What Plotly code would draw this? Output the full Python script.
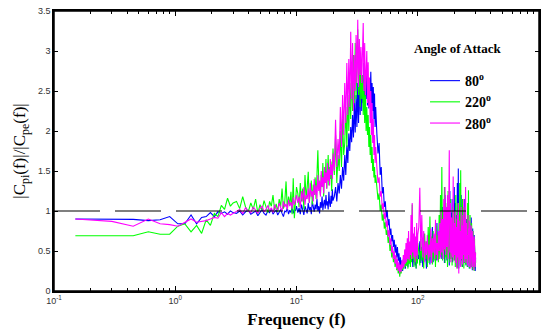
import plotly.graph_objects as go

# ---------------- data ----------------
freq_a = [0.15, 0.3, 0.45, 0.6, 0.75, 0.9, 1.05, 1.2, 1.35, 1.5, 1.65, 1.8, 1.95, 2.1, 2.25, 2.4, 2.55, 2.7, 2.85, 3.0]
freq_b = [3.2, 3.4, 3.6, 3.8, 4.0, 4.2, 4.4, 4.6, 4.8, 5.0, 5.2, 5.4, 5.6, 5.8, 6.0, 6.2, 6.4, 6.6, 6.8, 7.0,
          7.2, 7.4, 7.6, 7.8, 8.0, 8.2, 8.4, 8.6, 8.8, 9.0, 9.2, 9.4, 9.6, 9.8, 10.0]
freq_c1 = [10.25, 10.5, 10.75, 11, 11.25, 11.5, 11.75, 12, 12.25, 12.5, 12.75, 13, 13.25, 13.5, 13.75, 14,
           14.25, 14.5, 14.75, 15, 15.25, 15.5, 15.75, 16, 16.25, 16.5, 16.75, 17, 17.25, 17.5, 17.75, 18,
           18.25, 18.5, 18.75, 19, 19.25, 19.5, 19.75, 20]
freq_c2 = [20.5, 21, 21.5, 22, 22.5, 23, 23.5, 24, 24.5, 25, 25.5, 26, 26.5, 27, 27.5, 28, 28.5, 29, 29.5, 30,
           30.5, 31, 31.5, 32, 32.5, 33, 33.5, 34, 34.5, 35, 35.5, 36, 36.5, 37, 37.5, 38, 38.5, 39, 39.5, 40,
           40.5, 41, 41.5, 42, 42.5, 43, 43.5, 44, 44.5, 45]
freq_c3 = [46, 47, 48, 49, 50, 51, 52, 53, 54, 55, 56, 57, 58, 59, 60, 61, 62, 63, 64, 65, 66, 67, 68, 69, 70,
           71, 72, 73, 74, 75, 76, 77, 78, 79, 80, 81, 82, 83, 84, 85, 86, 87, 88, 89, 90, 91, 92, 93, 94, 95,
           96, 97, 98, 99, 100]
freq_d = [102, 104, 106, 108, 110, 112, 114, 116, 118, 120, 122, 124, 126, 128, 130, 132, 134, 136, 138, 140,
          142, 144, 146, 148, 150, 152, 154, 156, 158, 160, 162, 164, 166, 168, 170, 172, 174, 176, 178, 180,
          182, 184, 186, 188, 190, 192, 194, 196, 198, 200, 202, 204, 206, 208, 210, 212, 214, 216, 218, 220,
          222, 224, 226, 228, 230, 232, 234, 236, 238, 240, 242, 244, 246, 248, 250, 252, 254, 256, 258, 260,
          262, 264, 266, 268, 270, 272, 274, 276, 278, 280, 282, 284, 286, 288, 290, 292, 294, 296, 298, 300]
frequency = freq_a + freq_b + freq_c1 + freq_c2 + freq_c3 + freq_d

ratio_80 = [
    # 0.15 - 3.0
    0.90, 0.90, 0.895, 0.88, 0.89, 0.93, 0.84, 0.84, 0.95, 0.84, 0.92, 0.93, 0.98, 0.93, 0.99, 0.97, 0.99, 0.96, 1.00, 0.98,
    # 3.2 - 10
    0.97, 1.00, 0.95, 0.99, 1.01, 0.96, 0.98, 1.00, 0.94, 0.99, 1.02, 0.97, 0.95, 1.00, 0.98, 1.03, 0.96, 0.99, 1.01, 0.95,
    0.98, 1.02, 0.97, 0.93, 1.00, 0.99, 1.04, 0.96, 1.01, 0.98, 1.05, 0.97, 1.02, 1.00, 1.06,
    # 10.25 - 20
    0.98, 1.04, 0.96, 1.08, 1.00, 0.95, 1.06, 1.02, 0.97, 1.10, 1.01, 1.05, 0.96, 1.12, 1.03, 0.99, 1.08, 1.02, 1.15, 1.00,
    1.06, 0.97, 1.11, 1.04, 1.18, 1.01, 1.09, 1.14, 1.03, 1.20, 1.07, 1.12, 1.02, 1.24, 1.10, 1.05, 1.19, 1.09, 1.27, 1.13,
    # 20.5 - 45
    1.18, 1.30, 1.12, 1.35, 1.22, 1.45, 1.28, 1.55, 1.38, 1.70, 1.45, 1.82, 1.60, 1.97, 1.75, 2.05, 1.86, 2.20, 1.92, 2.35,
    1.98, 2.45, 2.05, 2.60, 2.10, 2.70, 2.20, 2.80, 2.25, 2.65, 2.35, 2.85, 2.30, 2.70, 2.40, 2.78, 2.32, 2.65, 2.28, 2.60,
    2.45, 2.74, 2.30, 2.60, 2.25, 2.55, 2.15, 2.47, 2.05, 2.30,
    # 46 - 100
    1.97, 1.72, 1.85, 1.45, 1.55, 1.22, 1.30, 1.05, 1.12, 0.92, 1.01, 0.82, 0.90, 0.70, 0.78, 0.62, 0.70, 0.55, 0.64, 0.48,
    0.58, 0.42, 0.55, 0.38, 0.47, 0.32, 0.42, 0.28, 0.38, 0.25, 0.35, 0.30, 0.42, 0.28, 0.39, 0.32, 0.48, 0.30, 0.45, 0.35,
    0.52, 0.33, 0.60, 0.38, 0.50, 0.30, 0.55, 0.36, 0.62, 0.32, 0.48, 0.28, 0.58, 0.35, 0.45,
    # 102 - 300
    0.40, 0.62, 0.35, 0.55, 0.30, 0.68, 0.38, 0.52, 0.28, 0.60, 0.40, 0.72, 0.33, 0.58, 0.42, 0.80, 0.36, 0.65, 0.45, 0.70,
    0.38, 0.85, 0.42, 0.66, 0.50,
    0.95, 0.45, 0.78, 0.40, 1.05, 0.52, 0.88, 0.35, 1.20, 0.48, 0.92, 0.38, 1.10, 0.55, 0.82, 0.32, 1.25, 0.45, 0.98, 0.40,
    1.15, 0.36, 0.90, 0.50, 1.30,
    0.42, 1.10, 0.35, 0.95, 0.30, 1.35, 0.45, 1.53, 0.28, 1.00, 0.40, 0.85, 0.32, 1.20, 0.38, 0.92, 0.30, 1.05, 0.45, 0.80,
    0.35, 1.15, 0.40, 0.75, 0.32,
    0.90, 0.38, 0.72, 0.30, 1.00, 0.42, 0.68, 0.28, 0.85, 0.36, 0.62, 0.30, 0.92, 0.40, 0.58, 0.26, 0.78, 0.35, 0.55, 0.28,
    0.70, 0.32, 0.50, 0.25, 0.42,
]

ratio_220 = [
    0.69, 0.69, 0.69, 0.74, 0.71, 0.71, 0.81, 0.84, 0.74, 0.82, 0.72, 0.89, 0.82, 0.97, 0.93, 1.07, 1.02, 1.16, 1.06, 1.10,
    1.12, 1.03, 1.18, 1.05, 0.99, 1.10, 1.02, 1.15, 0.97, 1.08, 1.01, 1.13, 1.04, 0.98, 1.12, 1.06, 1.20, 1.01, 1.09, 0.99,
    1.15, 1.05, 1.28, 1.03, 1.11, 1.37, 1.02, 1.18, 1.07, 1.24, 0.96, 1.41, 0.91, 1.16, 1.30,
    1.22, 1.05, 1.35, 1.12, 1.28, 1.02, 1.45, 1.15, 1.30, 1.49, 1.10, 1.26, 1.38, 1.08, 1.33, 1.20, 1.42, 1.15, 1.55, 1.76,
    1.38, 1.25, 1.20, 1.45, 1.30, 1.60, 1.18, 1.50, 1.35, 1.65, 1.28, 1.48, 1.70, 1.32, 1.55, 1.40, 1.62, 1.25, 1.58, 1.78,
    1.45, 1.95, 1.35, 1.70, 1.50, 2.00, 1.55, 2.15, 1.70, 1.85, 2.30, 1.80, 2.45, 2.00, 2.60, 2.15, 2.80, 2.25, 2.95, 2.35,
    3.10, 2.40, 2.90, 3.27, 2.45, 3.05, 2.30, 2.85, 2.40, 2.70, 2.20, 2.60, 2.10, 2.45, 2.00, 2.30, 1.95, 2.20, 1.80, 2.05,
    1.70, 1.95, 1.60, 1.80, 1.50, 1.65, 1.42, 1.55, 1.35, 1.45,
    1.30, 1.14, 1.22, 1.00, 1.08, 0.88, 0.96, 0.78, 0.86, 0.70, 0.76, 0.60, 0.68, 0.50, 0.58, 0.42, 0.52, 0.36, 0.46, 0.30,
    0.42, 0.26, 0.36, 0.22, 0.32, 0.18, 0.28, 0.22, 0.35, 0.26, 0.40, 0.28, 0.44, 0.30, 0.50, 0.32, 0.45, 0.28, 0.55, 0.34,
    0.48, 0.30, 0.62, 0.36, 1.08, 0.40, 0.58, 0.30, 0.66, 0.38, 0.52, 0.28, 0.70, 0.34, 0.60,
    0.50, 0.32, 0.65, 0.38, 0.58, 0.28, 0.72, 0.40, 0.62, 0.30, 0.80, 0.35, 0.93, 0.42, 0.68, 0.33, 0.75, 0.38, 0.60, 0.30,
    0.82, 0.40, 0.70, 0.36, 0.95,
    0.40, 1.20, 0.45, 1.55, 0.38, 1.00, 0.50, 1.30, 0.35, 1.10, 0.42, 0.88, 0.30, 1.25, 0.48, 0.95, 0.36, 1.15, 0.40, 0.85,
    0.32, 1.05, 0.45, 0.78, 0.38,
    1.00, 0.30, 1.20, 0.42, 0.90, 0.28, 1.10, 0.36, 0.82, 0.40, 1.35, 0.32, 1.51, 0.45, 0.95, 0.30, 1.15, 0.38, 0.80, 0.28,
    1.05, 0.40, 0.70, 0.33, 0.90,
    0.36, 0.75, 0.30, 1.10, 0.42, 1.26, 0.35, 0.80, 0.28, 0.95, 0.40, 0.68, 0.30, 0.85, 0.36, 0.62, 0.27, 0.75, 0.32, 0.55,
    0.25, 0.65, 0.30, 0.48, 0.35,
]

ratio_280 = [
    0.90, 0.87, 0.81, 0.90, 0.84, 0.83, 0.81, 0.86, 0.90, 0.86, 0.87, 0.88, 0.90, 0.92, 0.91, 0.98, 0.93, 0.97, 0.95, 0.97,
    0.99, 1.02, 0.97, 1.04, 1.00, 0.98, 1.05, 1.01, 0.97, 1.03, 1.06, 0.99, 1.02, 1.07, 1.00, 1.04, 0.98, 1.08, 1.03, 1.01,
    1.10, 1.04, 1.00, 1.12, 1.05, 1.09, 1.02, 1.14, 1.06, 1.11, 1.03, 1.17, 1.08, 1.13, 1.20,
    1.10, 1.18, 1.04, 1.25, 1.12, 1.30, 1.08, 1.20, 1.15, 1.28, 1.10, 1.35, 1.18, 1.25, 1.12, 1.40, 1.20, 1.32, 1.15, 1.45,
    1.25, 1.38, 1.18, 1.50, 1.30, 1.42, 1.22, 1.55, 1.35, 1.48, 1.28, 1.60, 1.38, 1.52, 1.32, 1.65, 1.45, 1.58, 1.40, 1.72,
    1.50, 2.14, 1.55, 1.90, 1.65, 2.30, 1.80, 2.45, 1.95, 2.60, 2.10, 2.85, 2.20, 2.90, 2.30, 3.24, 2.40, 3.10, 2.25, 2.95,
    2.50, 3.20, 2.60, 3.39, 2.55, 3.15, 2.70, 3.05, 2.60, 3.25, 3.35, 2.50, 3.10, 2.45, 2.90, 3.00, 2.35, 2.86, 2.30, 2.67,
    2.10, 2.50, 1.95, 2.35, 1.85, 2.15, 1.70, 1.95, 1.60, 1.80,
    1.55, 1.35, 1.42, 1.18, 1.25, 1.02, 1.10, 0.90, 0.98, 0.80, 0.88, 0.68, 0.76, 0.58, 0.66, 0.48, 0.56, 0.40, 0.50, 0.34,
    0.45, 0.28, 0.40, 0.25, 0.36, 0.22, 0.33, 0.24, 0.38, 0.28, 0.45, 0.30, 0.52, 0.34, 0.60, 0.36, 0.66, 0.40, 0.75, 0.38,
    0.62, 0.45, 0.95, 0.40, 1.10, 0.48, 0.72, 0.42, 0.80, 0.36, 0.68, 0.44, 0.85, 0.40, 0.70,
    0.80, 1.29, 0.50, 0.95, 0.42, 0.75, 0.36, 0.62, 0.45, 0.70, 0.38, 0.58, 0.42, 0.78, 0.35, 0.66, 0.48, 0.72, 0.40, 0.89,
    0.45, 0.60, 0.38, 0.75, 0.50,
    0.85, 0.42, 1.00, 0.48, 0.90, 0.40, 1.15, 0.52, 1.30, 0.45, 1.05, 0.55, 1.20, 0.40, 0.95, 1.76, 0.48, 1.10, 0.36, 0.92,
    0.50, 0.42, 1.43, 0.38, 0.85,
    0.45, 1.00, 0.35, 0.80, 0.28, 0.95, 0.42, 1.10, 0.22, 0.88, 0.38, 0.75, 0.30, 1.05, 0.40, 0.82, 0.33, 0.95, 0.45, 1.15,
    0.36, 0.90, 0.40, 1.30, 0.35,
    0.85, 0.40, 0.70, 0.32, 0.95, 0.45, 0.78, 0.30, 0.88, 0.38, 0.65, 0.28, 0.82, 0.42, 0.60, 0.30, 0.75, 0.35, 0.58, 0.26,
    0.68, 0.33, 0.55, 0.30, 0.48,
]

reference_level = 1.0
x_range_ends = [0.1, 1000]

series_names = ["<b>80<sup>o</sup></b>", "<b>220<sup>o</sup></b>", "<b>280<sup>o</sup></b>"]
series_values = [ratio_80, ratio_220, ratio_280]
series_colors = ["#0000FF", "#00FF00", "#FF00FF"]

x_tick_vals = [0.1, 1, 10, 100, 1000]
x_tick_text = ["10<sup>-1</sup>", "10<sup>0</sup>", "10<sup>1</sup>", "10<sup>2</sup>", "10<sup>3</sup>"]
x_minor_vals = [0.2, 0.3, 0.4, 0.5, 0.6, 0.7, 0.8, 0.9, 2, 3, 4, 5, 6, 7, 8, 9,
                20, 30, 40, 50, 60, 70, 80, 90, 200, 300, 400, 500, 600, 700, 800, 900]

# ---------------- figure ----------------
fig = go.Figure()
for i, (name, vals, col) in enumerate(zip(series_names, series_values, series_colors)):
    fig.add_trace(go.Scatter(x=frequency, y=vals, mode="lines", name=name,
                             legendgroup="g%d" % i,
                             line=dict(color=col, width=1.1)))

fig.add_trace(go.Scatter(x=x_range_ends, y=[reference_level, reference_level], mode="lines",
                         showlegend=False, hoverinfo="skip",
                         line=dict(color="black", width=1.2, dash="46px,15px")))

serif = "Liberation Serif, Times New Roman, serif"
sans = "Liberation Sans, Arial, sans-serif"

fig.update_layout(
    width=542, height=331,
    margin=dict(l=54, r=3, t=11, b=40, autoexpand=False),
    paper_bgcolor="white", plot_bgcolor="white",
    showlegend=True,
    legend=dict(x=0.765, y=0.807, xanchor="left", yanchor="top",
                bgcolor="rgba(0,0,0,0)", borderwidth=0,
                font=dict(family=serif, size=14, color="black"),
                itemwidth=30, tracegroupgap=0),
    xaxis=dict(type="log", range=[-1, 3], showline=True, linecolor="black", linewidth=1.5,
               mirror="ticks", ticks="inside", ticklen=5, tickcolor="black",
               tickvals=x_tick_vals, ticktext=x_tick_text,
               tickfont=dict(family=sans, size=9, color="#333333"),
               minor=dict(ticks="inside", ticklen=3, tickcolor="black", tickvals=x_minor_vals, showgrid=False),
               showgrid=False, zeroline=False, automargin=False,
               title=dict(text="<b>Frequency (f)</b>", font=dict(family=serif, size=17, color="black"), standoff=9)),
    yaxis=dict(range=[0, 3.5], dtick=0.5, showline=True, linecolor="black", linewidth=1.5,
               mirror="ticks", ticks="inside", ticklen=4, tickcolor="black",
               tickfont=dict(family=sans, size=9, color="#333333"),
               showgrid=False, zeroline=False, automargin=False,
               title=dict(text="|C<sub>pi</sub>(f)|/|C<sub>pe</sub>(f)|",
                          font=dict(family=serif, size=17, color="black"), standoff=8)),
    shapes=[dict(type="rect", xref="paper", yref="paper", x0=0, y0=0, x1=1, y1=1,
                 line=dict(color="black", width=1.5), fillcolor="rgba(0,0,0,0)", layer="above")],
    annotations=[dict(text="<b>Angle of Attack</b>", x=0.738, y=0.865, xref="paper", yref="paper",
                      xanchor="left", yanchor="middle", showarrow=False,
                      font=dict(family=serif, size=13, color="black"))],
)

# remove the browser's default 8px page margin so the figure sits at the window's corner
fig.write_html("out.html", config={"displayModeBar": False},
               post_script="document.body.style.margin='0px';")
